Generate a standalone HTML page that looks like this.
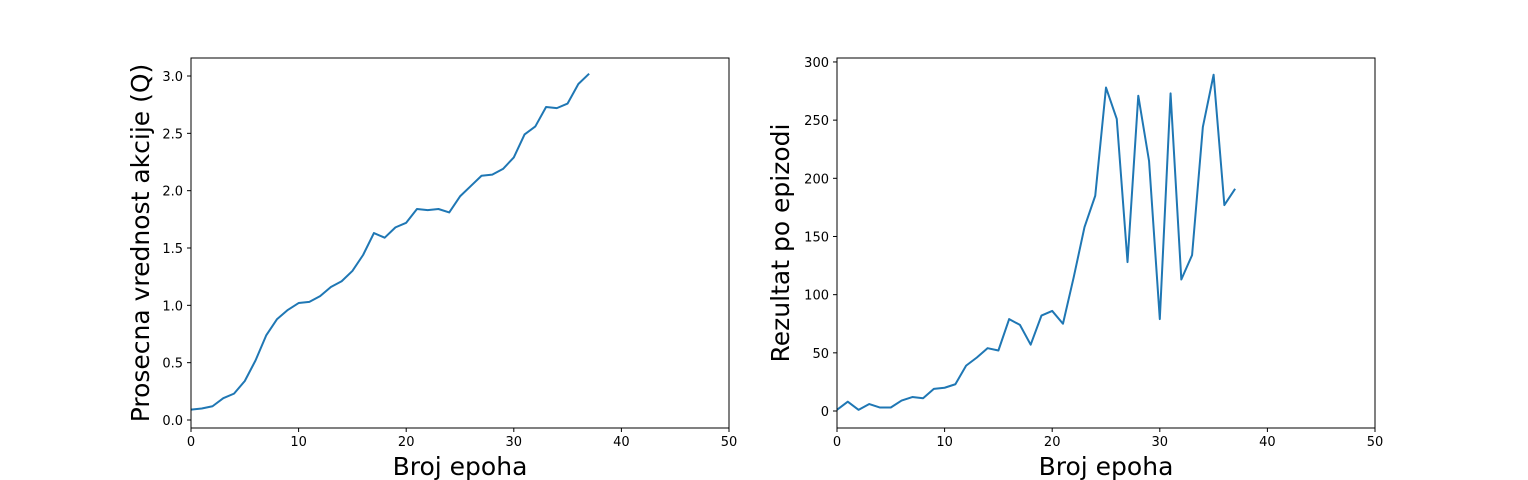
<!DOCTYPE html>
<html><head><meta charset="utf-8"><style>
body{margin:0;background:#fff}
svg{display:block;font-family:"DejaVu Sans","Liberation Sans",sans-serif}
</style></head><body>
<svg id="fig" width="1528" height="480"></svg>
<script>
const epochs = [0,1,2,3,4,5,6,7,8,9,10,11,12,13,14,15,16,17,18,19,20,21,22,23,24,25,26,27,28,29,30,31,32,33,34,35,36,37];
const qValues = [0.09,0.10,0.12,0.19,0.23,0.34,0.52,0.74,0.88,0.96,1.02,1.03,1.08,1.16,1.21,1.30,1.44,1.63,1.59,1.68,1.72,1.84,1.83,1.84,1.81,1.95,2.04,2.13,2.14,2.19,2.29,2.49,2.56,2.73,2.72,2.76,2.93,3.02];
const scores = [1,8,1,6,3,3,9,12,11,19,20,23,39,46,54,52,79,74,57,82,86,75,115,158,185,278,251,128,271,215,79,273,113,134,244,289,177,191];
const xTicks = [0,10,20,30,40,50];
const qTicks = [0.0,0.5,1.0,1.5,2.0,2.5,3.0];
const scoreTicks = [0,50,100,150,200,250,300];
const NS="http://www.w3.org/2000/svg";
const svg=document.getElementById('fig');
function mk(tag,attrs,parent){const e=document.createElementNS(NS,tag);for(const k in attrs)e.setAttribute(k,attrs[k]);(parent||svg).appendChild(e);return e;}
function chart(cfg){
  const g=mk('g',{});
  
  
  const L=cfg.left,R=cfg.left+538,T=58,B=428;
  const xs=v=>L+(v-0)/(50-0)*(R-L);
  const ys=v=>B-(v-cfg.ymin)/(cfg.ymax-cfg.ymin)*(B-T);
  let d='';
  epochs.forEach((e,i)=>{d+=(i?'L':'M')+xs(e).toFixed(2)+','+ys(cfg.data[i]).toFixed(2);});
  const line=mk('path',{d:d,fill:'none',stroke:'#1f77b4','stroke-width':2,'stroke-linejoin':'round'},g);
  
  
  const frame=mk('rect',{x:L,y:T,width:R-L,height:B-T,fill:'none',stroke:'#000','stroke-width':1},g);
  
  
  xTicks.forEach(t=>{
    const x=xs(t);
    mk('line',{x1:x,x2:x,y1:B,y2:B+4,stroke:'#000','stroke-width':1},g);
    const tx=mk('text',{x:x,y:B+18,'text-anchor':'middle','font-size':'13px'},g);
    tx.textContent=t;
    
    
  });
  cfg.ticks.forEach(t=>{
    const y=ys(t);
    mk('line',{x1:L-4,x2:L,y1:y,y2:y,stroke:'#000','stroke-width':1},g);
    const tx=mk('text',{x:L-8,y:y+5,'text-anchor':'end','font-size':'13px'},g);
    tx.textContent=cfg.fmt(t);
    
    
  });
  const xl=mk('text',{x:(L+R)/2,y:475,'text-anchor':'middle','font-size':'25px'},g);
  xl.textContent='Broj epoha';
  
  
  const yl=mk('text',{x:0,y:0,'text-anchor':'middle','font-size':'25px',transform:`translate(${cfg.ylx},${(T+B)/2}) rotate(-90)`},g);
  yl.textContent=cfg.ylabel;
  
  
}
chart({name:'q-value-chart',left:191,ymin:-0.0698,ymax:3.157,data:qValues,ticks:qTicks,fmt:t=>t.toFixed(1),ylabel:'Prosecna vrednost akcije (Q)',ylx:149});
chart({name:'score-chart',left:837,ymin:-14.6,ymax:303.4,data:scores,ticks:scoreTicks,fmt:t=>String(t),ylabel:'Rezultat po epizodi',ylx:789});
</script>
</body></html>
